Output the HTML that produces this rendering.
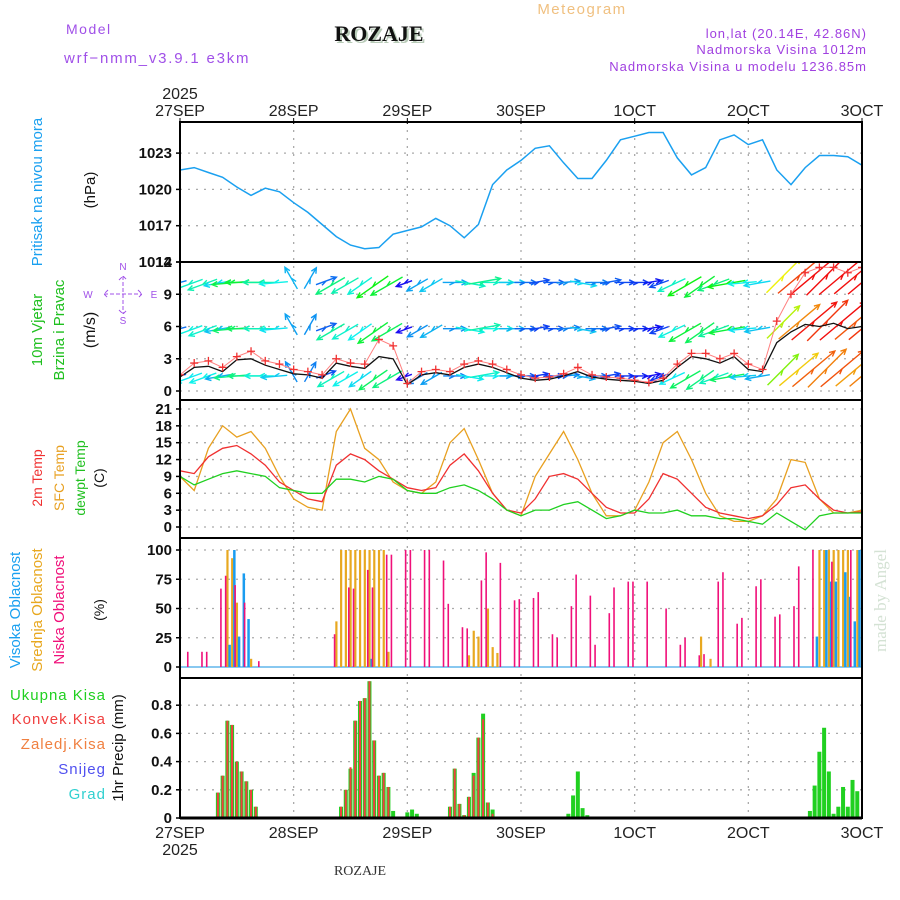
<!DOCTYPE html>
<html><head><meta charset="utf-8"><style>
body{margin:0;background:#fff;}
svg{display:block;font-family:"Liberation Sans","DejaVu Sans",sans-serif;}
</style></head><body>
<svg id="chart" width="900" height="900" viewBox="0 0 900 900" xmlns="http://www.w3.org/2000/svg">
<rect width="900" height="900" fill="#fff"/>
<text x="66" y="34" font-size="14" fill="#a050e8" letter-spacing="1.5">Model</text>
<text x="64" y="63" font-size="15" fill="#a050e8" letter-spacing="1.8">wrf−nmm_v3.9.1 e3km</text>
<text x="381" y="43" font-size="22" font-weight="bold" text-anchor="middle" fill="#b8cbb8" font-family="Liberation Serif,serif">ROZAJE</text>
<text x="379" y="41" font-size="22" font-weight="bold" text-anchor="middle" fill="#111" font-family="Liberation Serif,serif">ROZAJE</text>
<text x="582" y="14" font-size="15" text-anchor="middle" fill="#f0c080" letter-spacing="1.5">Meteogram</text>
<g font-size="13" fill="#a040e0" text-anchor="end" letter-spacing="1">
<text x="867" y="38">lon,lat (20.14E, 42.86N)</text>
<text x="867" y="54">Nadmorska Visina 1012m</text>
<text x="867" y="71">Nadmorska Visina u modelu 1236.85m</text>
</g>
<text x="360" y="875" font-size="14" text-anchor="middle" fill="#333" font-family="Liberation Serif,serif">ROZAJE</text>
<text transform="translate(886,652) rotate(-90)" font-size="17" fill="#d4e2d4" font-family="Liberation Serif,serif">made by Angel</text>
<g id="layer"></g>
</svg>
<script>
// ---- data (3-hourly, hours since 27SEP 00) ----
const hours = [];
for (let i = 0; i <= 48; i++) hours.push(i * 3);
const dayLabels = ["27SEP","28SEP","29SEP","30SEP","1OCT","2OCT","3OCT"];
const pressure = [1021.6,1021.8,1021.4,1021.0,1020.2,1019.5,1020.1,1019.8,1018.9,1018.1,1017.1,1016.1,1015.4,1015.1,1015.2,1016.3,1016.6,1016.9,1017.6,1017.0,1016.0,1017.1,1020.4,1021.6,1022.4,1023.4,1023.6,1022.2,1020.9,1020.9,1022.4,1024.1,1024.4,1024.7,1024.7,1022.6,1021.2,1021.8,1024.1,1024.5,1023.7,1024.1,1021.6,1020.4,1021.8,1022.8,1022.8,1022.7,1022.0];
const pressureTicks = [1014,1017,1020,1023];
const windSpeed = [1.3,2.2,2.3,1.8,2.9,3.0,2.4,2.0,1.6,1.5,1.2,2.6,2.3,2.1,3.2,3.0,0.6,1.5,1.7,1.5,2.2,2.5,2.2,1.7,1.2,1.0,1.1,1.4,1.8,1.3,1.1,1.0,0.9,0.7,1.0,2.2,3.2,3.0,2.6,3.2,2.0,1.8,4.5,5.5,6.2,6.0,6.3,5.8,6.0];
const windGust = [1.5,2.6,2.8,2.2,3.2,3.7,2.8,2.5,2.0,1.8,1.5,3.0,2.6,2.5,4.8,4.2,0.7,1.8,2.0,1.8,2.5,2.8,2.5,2.0,1.5,1.2,1.3,1.6,2.2,1.5,1.3,1.2,1.0,0.8,1.2,2.5,3.5,3.5,3.0,3.5,2.5,2.0,6.5,9.0,11.0,11.5,11.5,11.0,11.5];
const windDir = [195,200,200,190,185,180,180,185,120,60,20,210,210,215,215,210,200,210,210,0,350,10,0,0,0,10,0,5,350,0,10,0,0,10,200,205,210,215,200,190,185,190,45,40,40,45,40,40,40];
const windTicks = [0,3,6,9,12];
const temp2m = [10,9.5,12.5,14,14.5,13,11,8,6.5,5,4.5,11,13,12,10,8.5,7,6.5,7,11,13,10,6,3,2.5,5,9,9.5,8.5,6,3.5,2.5,2.5,5,9.5,8.5,6,3.5,2.5,2,1.5,2,4,7,7.5,5,3,2.5,2.7];
const tempSfc = [9,6.5,14,18,16,17,14,9,5,3.5,3,17,21,14,12,8,6.5,6,8,15,17.5,12,6,3,2,9,13,17,12,6,2,2,3,8,15,17,12,6,2,1,1,2,5,12,11.5,5,2.5,2.5,3];
const tempDew = [9,7.5,8.5,9.5,10,9.5,9,7,6.5,6,6,8.5,8.5,8,9,8.5,6.5,6,6,7,7.5,6.5,5,3,2,3,3,4,4.5,3,1.5,2,3,2.5,2.5,3,2,2,1.5,1.5,1,0.5,2.5,1,-0.5,2,2.5,2.5,2.5];
const tempTicks = [0,3,6,9,12,15,18,21];
const lowCloudHours = [2,5,6,9,10,12,14,17,33,36,37,40,41,44,45,48,49,52,53,56,57,60,61,64,65,68,71,72,75,76,79,80,83,84,87,88,91,92,95,96,99,103,106,107,110,111,114,115,118,119,122,123,126,127,130,131,134,138,142];
const lowCloud = [13,13,13,67,78,70,55,5,28,68,67,83,68,96,96,100,100,100,100,91,54,34,33,74,98,89,57,58,59,64,28,25,52,79,61,19,46,68,73,73,73,50,19,25,10,11,73,81,37,42,69,75,43,45,52,86,100,90,100];
const midCloudHours = [10,11,12,15,33,34,35,36,37,38,39,40,41,42,43,44,61,62,63,65,66,67,110,112,135,136,137,138,139,140,141,143,144];
const midCloud = [100,93,55,7,39,100,100,100,100,100,100,100,100,100,100,13,10,31,26,50,17,12,26,7,100,100,100,100,100,100,100,100,100];
const highCloudHours = [10,11,12,13,14,40,134,136,137,138,140,141,142,143];
const highCloud = [19,100,26,80,41,7,26,100,73,73,81,60,39,100];
const cloudTicks = [0,25,50,75,100];
const precipHours = [8,9,10,11,12,13,14,15,16,17,34,35,36,37,38,39,40,41,42,43,44,45,46,47,48,49,50,57,58,59,60,61,62,63,64,65,66,67,82,83,84,85,86,89,94,99,104,133,134,135,136,137,138,139,140,141,142,143];
const precipTotal = [0.18,0.30,0.69,0.66,0.40,0.33,0.26,0.20,0.08,0.01,0.08,0.20,0.35,0.69,0.83,0.85,0.97,0.55,0.30,0.32,0.22,0.05,0.01,0.01,0.04,0.06,0.03,0.08,0.35,0.10,0.02,0.15,0.32,0.57,0.74,0.11,0.06,0.01,0.03,0.16,0.33,0.07,0.02,0.01,0.01,0.01,0.01,0.05,0.23,0.47,0.64,0.33,0.03,0.08,0.22,0.08,0.27,0.19];
const precipConv = [0.18,0.30,0.69,0.66,0.40,0.33,0.26,0.20,0.08,0.01,0.08,0.20,0.36,0.69,0.83,0.85,0.97,0.55,0.30,0.32,0.22,0,0,0,0,0,0,0.08,0.35,0.10,0.02,0.15,0.30,0.57,0.70,0.11,0.03,0,0,0,0,0,0,0,0,0,0,0,0,0,0,0,0,0,0,0,0,0];
const precipTicks = [0,0.2,0.4,0.6,0.8];

// ---- geometry ----
const X0 = 180, X1 = 862;
const xs = h => X0 + h * (X1 - X0) / 144;
const yP = v => 262 - (v - 1014) * 12.1;
const yW = v => 391 - v * 10.75;
const yT = v => 527 - v * 5.62;
const yC = v => 667 - v * 1.17;
const yR = v => 818 - v * 141;
const panels = [[122,262],[262,400],[400,538],[538,678],[678,818]];
const NS = "http://www.w3.org/2000/svg";
const layer = document.getElementById("layer");
function mk(tag, attrs, parent) {
  const e = document.createElementNS(NS, tag);
  for (const k in attrs) e.setAttribute(k, attrs[k]);
  (parent || layer).appendChild(e);
  return e;
}
function txt(x, y, s, attrs, parent) { const t = mk("text", Object.assign({x: x, y: y}, attrs), parent); t.textContent = s; return t; }

const defs = mk("defs", {});
panels.forEach((p, i) => {
  const cp = mk("clipPath", {id: "clip" + i}, defs);
  mk("rect", {x: X0, y: p[0], width: X1 - X0, height: p[1] - p[0]}, cp);
});

const grid = mk("g", {stroke: "#aaa", "stroke-width": 1.3, "stroke-dasharray": "2,6"});


for (let d = 1; d < 6; d++) mk("line", {x1: xs(d*24), x2: xs(d*24), y1: 122, y2: 818}, grid);
function hgrid(ticks, f) { ticks.forEach(t => mk("line", {x1: X0, x2: X1, y1: f(t), y2: f(t)}, grid)); }
hgrid(pressureTicks, yP); hgrid(windTicks, yW); hgrid(tempTicks, yT); hgrid(cloudTicks, yC); hgrid(precipTicks, yR);

function yticks(ticks, f, name, fmt) {
  const g = mk("g", {"font-size": 15, "font-weight": "bold", "text-anchor": "end", fill: "#111"});
  
  
  ticks.forEach(t => {
    txt(172, f(t) + 5, fmt ? fmt(t) : String(t), {}, g);
    mk("line", {x1: X0 - 4, x2: X0, y1: f(t), y2: f(t), stroke: "#000", "stroke-width": 1.5}, g);
  });
}
yticks(pressureTicks, yP, "pressure-y-ticks");
yticks(windTicks, yW, "wind-y-ticks");
yticks(tempTicks, yT, "temp-y-ticks");
yticks(cloudTicks, yC, "cloud-y-ticks");
yticks(precipTicks, yR, "precip-y-ticks", t => t === 0 ? "0" : t.toFixed(1));

const xl = mk("g", {"font-size": 16, "text-anchor": "middle", fill: "#222"});


dayLabels.forEach((d, i) => {
  txt(xs(i*24), 116, d, {}, xl);
  txt(xs(i*24), 838, d, {}, xl);
  mk("line", {x1: xs(i*24), x2: xs(i*24), y1: 118, y2: 124, stroke: "#000"}, xl);
});
txt(180, 99, "2025", {}, xl);
txt(180, 855, "2025", {}, xl);

function line(f, vals, color, w, clip, name) {
  const d = vals.map((v, i) => (i ? "L" : "M") + xs(hours[i]).toFixed(1) + "," + f(v).toFixed(1)).join("");
  const p = mk("path", {d: d, fill: "none", stroke: color, "stroke-width": w, "clip-path": "url(#clip" + clip + ")"});
  
  
  return p;
}

line(yP, pressure, "#1aa0f0", 1.5, 0, "pressure-line");

// wind arrows (3 rows)
const arrowG = mk("g", {"clip-path": "url(#clip1)", "stroke-width": 1.4, fill: "none"});


[yW(1.4), yW(5.8), yW(10.1)].forEach((by, r) => {
  hours.forEach((h, i) => {
    const s = windSpeed[i] * (1 + r * 0.08);
    const hue = Math.max(0, 270 - s * 40);
    const col = "hsl(" + hue + ",90%,50%)";
    const len = 12 + s * 7;
    const a = windDir[i] * Math.PI / 180;
    const x0 = xs(h) - Math.cos(a) * len * 0.3, y0 = by + Math.sin(a) * len * 0.3;
    const x1 = x0 + Math.cos(a) * len, y1 = y0 - Math.sin(a) * len;
    const hl = 6;
    const a1 = a + Math.PI - 0.45, a2 = a + Math.PI + 0.45;
    mk("path", {d: "M" + x0 + "," + y0 + "L" + x1 + "," + y1 +
      "M" + (x1 + Math.cos(a1) * hl) + "," + (y1 - Math.sin(a1) * hl) + "L" + x1 + "," + y1 +
      "L" + (x1 + Math.cos(a2) * hl) + "," + (y1 - Math.sin(a2) * hl) +
      "M" + (x0 + Math.cos(a) * len * 0.5) + "," + (y0 - Math.sin(a) * len * 0.5) + "l" + (Math.cos(a2) * hl) + "," + (-Math.sin(a2) * hl), stroke: col}, arrowG);
  });
});
line(yW, windSpeed, "#111", 1.3, 1, "wind-speed-line");
line(yW, windGust, "#ff8080", 1, 1, "wind-gust-line");
const gustG = mk("g", {stroke: "#f03030", "stroke-width": 1.3, "clip-path": "url(#clip1)"});


hours.forEach((h, i) => {
  const x = xs(h), y = yW(windGust[i]);
  mk("path", {d: "M" + (x-4) + "," + y + "h8M" + x + "," + (y-4) + "v8"}, gustG);
});

line(yT, tempSfc, "#e8a020", 1.3, 2, "sfc-temp-line");
line(yT, temp2m, "#f03030", 1.3, 2, "temp-2m-line");
line(yT, tempDew, "#20d020", 1.3, 2, "dewpoint-line");

function bars(hs, vals, f, color, off, w, name, clip) {
  const g = mk("g", {fill: color, "clip-path": "url(#clip" + clip + ")"});
  
  
  hs.forEach((h, i) => {
    const y = f(vals[i]), y0 = f(0);
    mk("rect", {x: xs(h) + off, y: y, width: w, height: Math.max(0, y0 - y)}, g);
  });
}
mk("line", {x1: X0, x2: X1, y1: yC(0), y2: yC(0), stroke: "#88c8f0", "stroke-width": 2});
bars(midCloudHours, midCloud, yC, "#e8a820", -1, 2.2, "mid-cloud-bars", 3);
bars(highCloudHours, highCloud, yC, "#1a9cf0", 1, 2.5, "high-cloud-bars", 3);
bars(lowCloudHours, lowCloud, yC, "#f0107a", -2.5, 1.6, "low-cloud-bars", 3);

bars(precipHours, precipTotal, yR, "#20d020", -2, 4, "precip-total-bars", 4);
bars(precipHours, precipConv, yR, "#f04040", -1, 2, "precip-conv-bars", 4);

const bg = mk("g", {fill: "none", stroke: "#000", "stroke-width": 2});


panels.forEach(p => mk("rect", {x: X0, y: p[0], width: X1 - X0, height: p[1] - p[0]}, bg));
mk("line", {x1: X0, x2: X1, y1: 818, y2: 818, stroke: "#000", "stroke-width": 3});

function vlabel(x, y, s, color, size, name) {
  const t = txt(0, 0, s, {transform: "translate(" + x + "," + y + ") rotate(-90)", "text-anchor": "middle", fill: color, "font-size": size || 14}, layer);
  
  
}
vlabel(42, 192, "Pritisak na nivou mora", "#1aa0f0", 15, "pressure-label");
vlabel(95, 190, "(hPa)", "#111", 15, "pressure-unit");
vlabel(42, 330, "10m Vjetar", "#20c020", 15, "wind-label-1");
vlabel(64, 330, "Brzina i Pravac", "#20c020", 15, "wind-label-2");
vlabel(95, 330, "(m/s)", "#111", 16, "wind-unit");
vlabel(42, 478, "2m Temp", "#f03030", 14, "temp-2m-label");
vlabel(64, 478, "SFC Temp", "#e8a020", 14, "sfc-temp-label");
vlabel(85, 478, "dewpt Temp", "#20c020", 14, "dewpt-label");
vlabel(104, 478, "(C)", "#111", 14, "temp-unit");
vlabel(20, 610, "Visoka Oblacnost", "#1aa0f0", 15, "high-cloud-label");
vlabel(42, 610, "Srednja Oblacnost", "#e8a820", 15, "mid-cloud-label");
vlabel(64, 610, "Niska Oblacnost", "#f0107a", 15, "low-cloud-label");
vlabel(104, 610, "(%)", "#111", 14, "cloud-unit");
vlabel(123, 748, "1hr Precip (mm)", "#111", 15, "precip-unit");
const leg = mk("g", {"font-size": 15, "text-anchor": "end", "letter-spacing": "1"});


[["Ukupna Kisa","#20d020",700],["Konvek.Kisa","#f04040",724],["Zaledj.Kisa","#f08040",749],["Snijeg","#5050f0",774],["Grad","#30d0d0",799]].forEach(l => txt(106, l[2], l[0], {fill: l[1]}, leg));
const cg = mk("g", {fill: "#a050e8", "font-size": 10, "text-anchor": "middle", stroke: "none"});


txt(123, 270, "N", {}, cg); txt(123, 324, "S", {}, cg);
txt(88, 298, "W", {}, cg); txt(154, 298, "E", {}, cg);
mk("path", {d: "M123,276V314M104,294H142M119,280l4,-4l4,4M119,310l4,4l4,-4M108,290l-4,4l4,4M138,290l4,4l-4,4", stroke: "#a050e8", fill: "none", "stroke-dasharray": "4,2"}, cg);
</script>
</body></html>
